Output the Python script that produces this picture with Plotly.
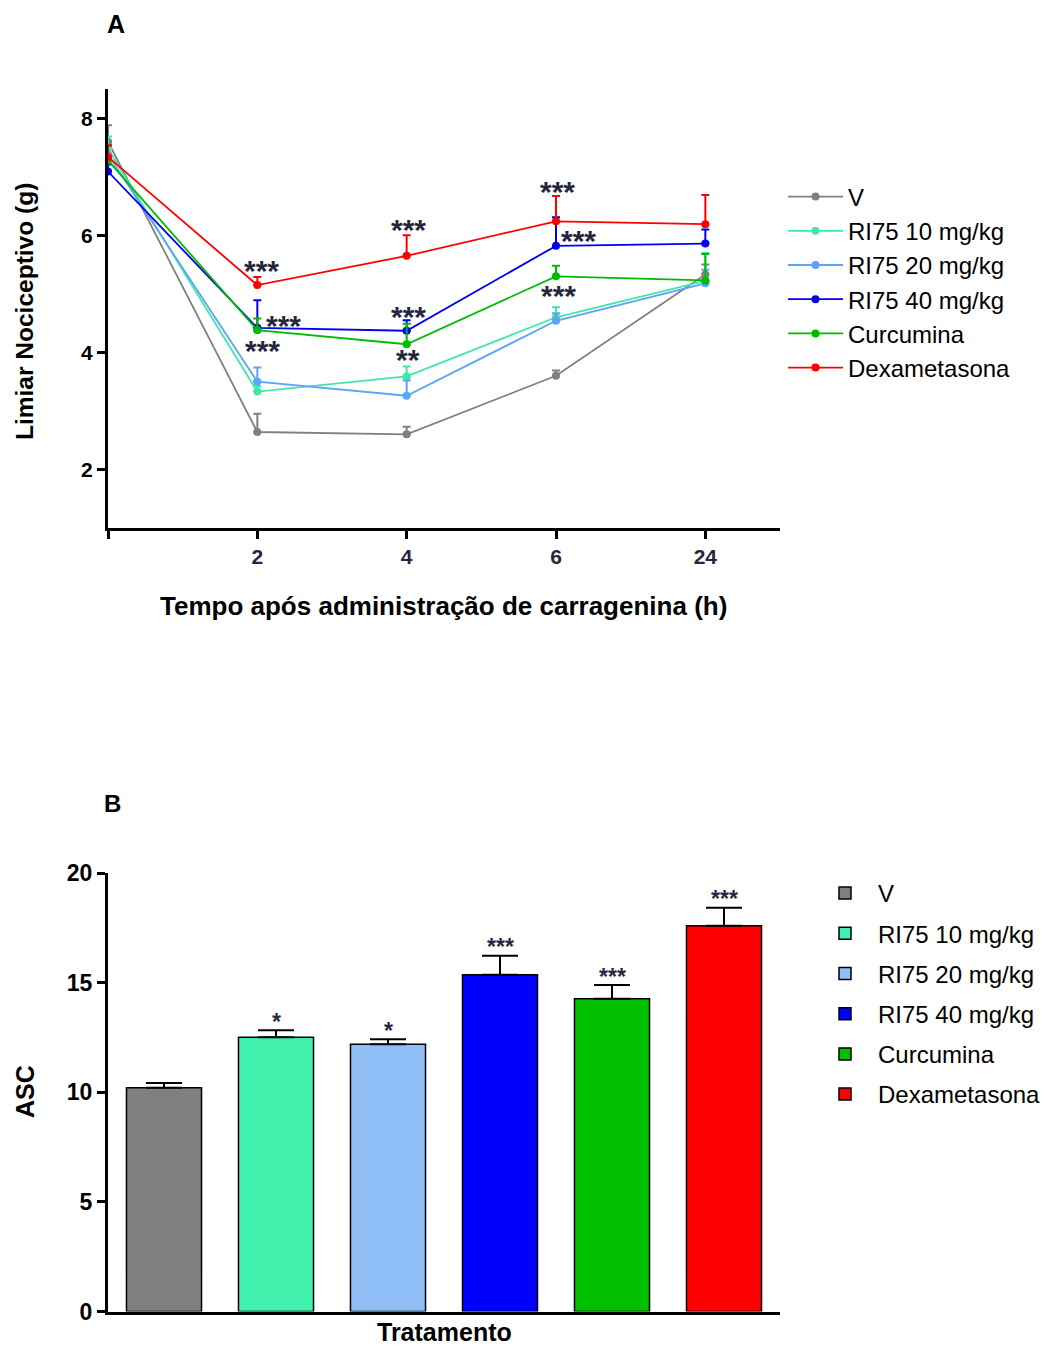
import plotly.graph_objects as go

# ---------------- data ----------------
times = ["0", "2", "4", "6", "24"]
time_ticktext = ["", "2", "4", "6", "24"]
groups = ["V", "RI75 10 mg/kg", "RI75 20 mg/kg", "RI75 40 mg/kg", "Curcumina", "Dexametasona"]

v_mean = [7.60, 2.64, 2.60, 3.60, 5.33]
v_err = [0.28, 0.31, 0.13, 0.09, 0.17]
ri10_mean = [7.48, 3.33, 3.59, 4.60, 5.22]
ri10_err = [0.21, 0.09, 0.17, 0.17, 0.48]
ri20_mean = [7.38, 3.50, 3.26, 4.54, 5.18]
ri20_err = [0.15, 0.24, 0.26, 0.13, 0.23]
ri40_mean = [7.09, 4.42, 4.37, 5.82, 5.86]
ri40_err = [0.12, 0.47, 0.18, 0.49, 0.24]
curc_mean = [7.28, 4.38, 4.14, 5.30, 5.23]
curc_err = [0.25, 0.20, 0.35, 0.18, 0.45]
dexa_mean = [7.34, 5.15, 5.65, 6.24, 6.19]
dexa_err = [0.20, 0.14, 0.35, 0.43, 0.50]

a_means = [v_mean, ri10_mean, ri20_mean, ri40_mean, curc_mean, dexa_mean]
a_errs = [v_err, ri10_err, ri20_err, ri40_err, curc_err, dexa_err]

# significance marks in panel A: (group index, time index, text)
a_sig = [(5, 1, "***"), (3, 1, "***"), (4, 1, "***"),
         (5, 2, "***"), (3, 2, "***"), (4, 2, "**"),
         (5, 3, "***"), (3, 3, "***"), (4, 3, "***")]

asc_mean = [10.21, 12.51, 12.19, 15.36, 14.26, 17.59]
asc_err = [0.21, 0.32, 0.23, 0.87, 0.63, 0.83]
asc_sig = ["", "*", "*", "***", "***", "***"]

# ---------------- styles ----------------
line_colors = ["#808080", "#40e8a8", "#5aa4fa", "#0000f0", "#00bb00", "#ff0000"]
bar_colors = ["#808080", "#42f0ae", "#90bff8", "#0000ff", "#00c000", "#ff0000"]
# pixel offsets (dx, dy) of the star glyph centres relative to the point
a_sig_offsets = [(4, -18), (26, -6), (5, 17),
                 (2, -30), (2, -18), (1, 12),
                 (1, -33), (22, -9), (2, 16)]

BODY = 8                       # default page margin around the figure
W, H = 1055 - BODY, 1349 - BODY
FONT = "Liberation Sans, Arial, sans-serif"
STAR = "#262640"

def px(x):
    return (x - BODY) / W

def py(y):
    return 1 - (y - BODY) / H

fig = go.Figure()

for i, g in enumerate(groups):
    fig.add_trace(go.Scatter(
        x=times, y=a_means[i], name=g, mode="lines+markers",
        line=dict(color=line_colors[i], width=1.8),
        marker=dict(color=line_colors[i], size=8),
        error_y=dict(type="data", array=a_errs[i], arrayminus=[0] * len(times),
                     symmetric=False, color=line_colors[i], thickness=2, width=4),
        xaxis="x", yaxis="y", legend="legend", legendgroup="a" + str(i),
    ))

fig.add_trace(go.Bar(
    x=groups, y=asc_mean, showlegend=False,
    marker=dict(color=bar_colors, line=dict(color="black", width=1.5)),
    width=0.67,
    error_y=dict(type="data", array=asc_err, arrayminus=[0] * len(groups),
                 symmetric=False, color="black", thickness=2, width=18),
    xaxis="x2", yaxis="y2",
))
for i, g in enumerate(groups):
    fig.add_trace(go.Bar(
        x=[None], y=[None], name=g,
        marker=dict(color=bar_colors[i], line=dict(color="black", width=1.5)),
        xaxis="x2", yaxis="y2", legend="legend2", legendgroup="b" + str(i),
    ))

annotations = []
fs_a = 30
for (gi, ti, txt), (dx, dy) in zip(a_sig, a_sig_offsets):
    annotations.append(dict(
        x=ti, y=a_means[gi][ti], xref="x", yref="y", text=txt,
        showarrow=False, xanchor="center", yanchor="middle",
        xshift=dx, yshift=-dy - 0.11 * fs_a,
        font=dict(family=FONT, size=fs_a, color=STAR, weight="bold"),
    ))
fs_b = 23
for i, g in enumerate(groups):
    if asc_sig[i]:
        annotations.append(dict(
            x=i, y=asc_mean[i] + asc_err[i], xref="x2", yref="y2", text=asc_sig[i],
            showarrow=False, xanchor="center", yanchor="middle",
            yshift=11 - 0.11 * fs_b,
            font=dict(family=FONT, size=fs_b, color=STAR, weight="bold"),
        ))

def txt(x, y, s, size, angle=0, bold=True, color="black"):
    return dict(x=px(x), y=py(y), xref="paper", yref="paper", text=s, showarrow=False,
                xanchor="center", yanchor="middle", textangle=angle,
                font=dict(family=FONT, size=size, color=color, weight="bold" if bold else "normal"))

annotations += [
    txt(116, 24, "A", 25),
    txt(112, 803, "B", 24),
    txt(25, 312, "Limiar Nociceptivo (g)", 24.5, -90),
    txt(443, 606, "Tempo após administração de carragenina (h)", 26),
    txt(25, 1092, "ASC", 25, -90),
    txt(444, 1332, "Tratamento", 25),
]

axis_common = dict(showgrid=False, zeroline=False, showline=True, linecolor="black",
                   linewidth=3, ticks="outside", tickcolor="black", tickwidth=3, ticklen=8,
                   automargin=False)

fig.update_layout(
    width=W, height=H, margin=dict(l=0, r=0, t=0, b=0, pad=0, autoexpand=False),
    paper_bgcolor="white", plot_bgcolor="white",
    font=dict(family=FONT, color="black"),
    xaxis=dict(domain=[px(108), px(780)], anchor="y", type="category",
               categoryorder="array", categoryarray=times,
               range=[0, 4.5], tickvals=times, ticktext=time_ticktext,
               tickfont=dict(family=FONT, size=21, color="#262640", weight="bold"),
               **axis_common),
    yaxis=dict(domain=[py(528), py(89)], anchor="x", range=[1, 8.5],
               tickvals=[2, 4, 6, 8],
               tickfont=dict(family=FONT, size=21, color="black", weight="bold"),
               **axis_common),
    xaxis2=dict(domain=[px(108), px(780)], anchor="y2", type="category",
                range=[-0.5, 5.5], showticklabels=False, showgrid=False, zeroline=False,
                showline=True, linecolor="black", linewidth=3, ticks="", automargin=False),
    yaxis2=dict(domain=[py(1311.5), py(873)], anchor="x2", range=[0, 20],
                tickvals=[0, 5, 10, 15, 20],
                tickfont=dict(family=FONT, size=23, color="black", weight="bold"),
                **axis_common),
    legend=dict(x=px(783), y=py(282.5), xanchor="left", yanchor="middle",
                font=dict(family=FONT, size=24, color="black"),
                bgcolor="rgba(0,0,0,0)", tracegroupgap=0, itemwidth=55),
    legend2=dict(x=px(812), y=py(994), xanchor="left", yanchor="middle",
                 font=dict(family=FONT, size=24, color="black"),
                 bgcolor="rgba(0,0,0,0)", tracegroupgap=6, itemwidth=56),
    annotations=annotations,
)

fig.write_html("out.html")
